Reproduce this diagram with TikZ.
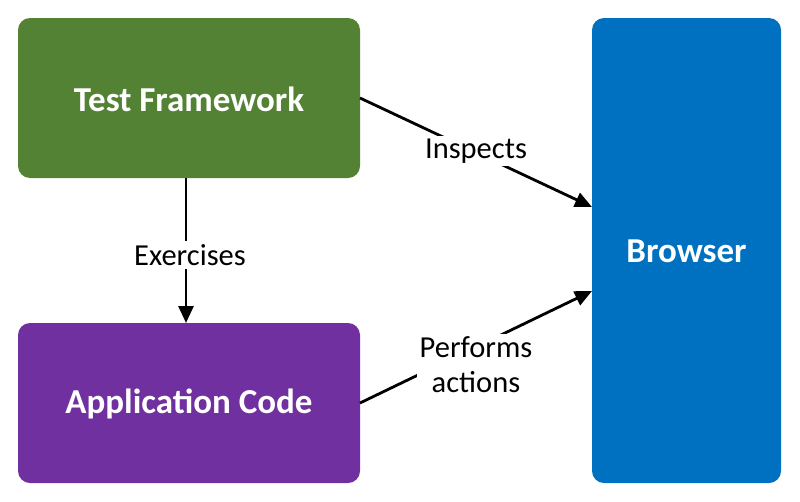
\documentclass[tikz,border=0pt]{standalone}
\usepackage{fontspec}
\setmainfont{Carlito}
\usetikzlibrary{arrows.meta}
\definecolor{tfgreen}{HTML}{548235}
\definecolor{appurple}{HTML}{7030A0}
\definecolor{brblue}{HTML}{0070C0}
\begin{document}
\begin{tikzpicture}[x=1pt,y=-1pt,
  box/.style={draw=none, text=white, font=\bfseries\fontsize{35}{40}\selectfont},
  lbl/.style={fill=white, inner sep=3pt, font=\fontsize{30.5}{35}\selectfont, align=center},
  arr/.style={line width=2.8pt, -{Triangle[length=17pt,width=15pt]}}]
\useasboundingbox (0,0) rectangle (800,501);
\fill[white] (0,0) rectangle (800,501);
\fill[tfgreen, rounded corners=12pt] (18,18) rectangle (360,178);
\fill[appurple, rounded corners=12pt] (18,323) rectangle (360,483);
\fill[brblue, rounded corners=12pt] (592,18) rectangle (781,483);
\node[box] (tf) at (189,99) {Test Framework};
\node[box] (app) at (189,404) {Application Code};
\node[box] (br) at (686.5,251) {Browser};
\coordinate (tfR) at (360,98);
\coordinate (brA) at (592,207);
\coordinate (appR) at (360,403);
\coordinate (brB) at (592,291);
\coordinate (tfB) at (186,178);
\coordinate (appT) at (186,323);
\draw[arr] (tfR) -- (brA);
\draw[arr] (appR) -- (brB);
\draw[arr] (tfB) -- (appT);
\node[lbl] (l1) at (476,151) {Inspects};
\node[lbl] (l2) at (476,365) {Performs\\actions};
\node[lbl] (l3) at (190,255) {Exercises};
\end{tikzpicture}
\end{document}
